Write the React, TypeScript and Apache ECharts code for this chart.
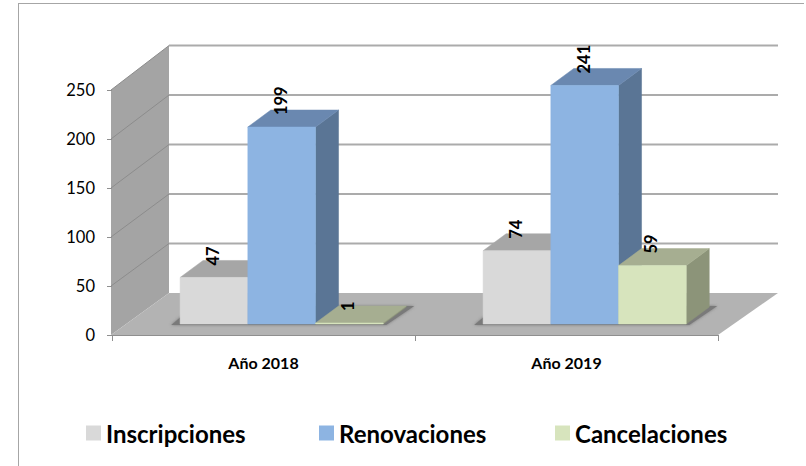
import React, { useEffect, useRef } from "react";
import * as echarts from "echarts";

const categories = ["Año 2018", "Año 2019"];
const seriesNames = ["Inscripciones", "Renovaciones", "Cancelaciones"];
const inscripciones = [47, 74];
const renovaciones = [199, 241];
const cancelaciones = [1, 59];
const yTicks = [0, 50, 100, 150, 200, 250];

const FONT = "Lato, Carlito, Calibri, sans-serif";
const faces = [
  { front: "#D9D9D9", top: "#A6A6A6", side: "#A3A3A3" },
  { front: "#8DB4E2", top: "#6A88B0", side: "#5A7595" },
  { front: "#D7E4BD", top: "#A6AE91", side: "#8C9479" },
];
const legendLeft = [81, 314, 550];

const BACK_DX = 58;
const BACK_DY = -42;
const VSCALE = 1.01;
const BAR_LIFT = 11;
const BAR_DX = 23;
const BAR_DY = -17;
const BAR_SHARE = 0.2235;
const GROUP_SHIFT = 0.06;

function barGeometry(api: any, cat: number, seriesIdx: number, v: number) {
  const [cx, yv] = api.coord([cat, v]);
  const [, y0] = api.coord([cat, 0]);
  const band = api.size([1, 0])[0];
  const w = band * BAR_SHARE;
  const center = cx + band * GROUP_SHIFT;
  const left = center - 1.5 * w + seriesIdx * w;
  const base = y0 - BAR_LIFT;
  const top = base - (y0 - yv) * VSCALE;
  return { left, right: left + w, base, top, w, center: left + w / 2 };
}

function renderBar(seriesIdx: number) {
  return (params: any, api: any) => {
    const cat = api.value(0);
    const v = api.value(1);
    const g = barGeometry(api, cat, seriesIdx, v);
    const c = faces[seriesIdx];
    const poly = (points: number[][], fill: string) => ({
      type: "polygon",
      shape: { points },
      style: { fill, stroke: fill, lineWidth: 0.5 },
    });
    return {
      type: "group",
      children: [
        poly(
          [
            [g.right, g.top],
            [g.right + BAR_DX, g.top + BAR_DY],
            [g.right + BAR_DX, g.base + BAR_DY],
            [g.right, g.base],
          ],
          c.side,
        ),
        poly(
          [
            [g.left, g.top],
            [g.left + BAR_DX, g.top + BAR_DY],
            [g.right + BAR_DX, g.top + BAR_DY],
            [g.right, g.top],
          ],
          c.top,
        ),
        poly(
          [
            [g.left, g.top],
            [g.right, g.top],
            [g.right, g.base],
            [g.left, g.base],
          ],
          c.front,
        ),
        {
          type: "text",
          x: g.center - 1,
          y: g.top - 12,
          rotation: Math.PI / 2,
          style: {
            text: String(v),
            fill: "#000",
            font: `bold 16.5px ${FONT}`,
            align: "left",
            verticalAlign: "middle",
          },
        },
      ],
    };
  };
}

function renderRoom(params: any, api: any) {
  const yOf = (t: number) => api.coord([0, t])[1];
  const x0 = api.coord([0, 0])[0] - api.size([1, 0])[0] / 2;
  const x1 = api.coord([1, 0])[0] + api.size([1, 0])[0] / 2;
  const y0 = yOf(0);
  const backY = (t: number) => y0 + BACK_DY - (y0 - yOf(t)) * VSCALE;
  const wallX = x0 - 1;
  const backX = x0 + BACK_DX - 1;
  const tMax = yTicks[yTicks.length - 1];
  const children: any[] = [
    {
      type: "polygon",
      shape: {
        points: [
          [wallX, y0],
          [backX, backY(0)],
          [backX, backY(tMax)],
          [wallX, yOf(tMax)],
        ],
      },
      style: { fill: "#A4A4A4" },
    },
    {
      type: "polygon",
      shape: {
        points: [
          [x0 - 1, y0],
          [x1, y0],
          [x1 + BACK_DX + 2, backY(0)],
          [backX, backY(0)],
        ],
      },
      style: { fill: "#B3B3B3" },
    },
  ];
  yTicks.forEach((t) => {
    if (t > 0) {
      children.push({
        type: "line",
        shape: { x1: backX, y1: backY(t), x2: x1 + BACK_DX + 2, y2: backY(t) },
        style: { stroke: "#ABABAB", lineWidth: 2 },
      });
      children.push({
        type: "line",
        shape: { x1: wallX, y1: yOf(t), x2: backX, y2: backY(t) },
        style: { stroke: "#8C8C8C", lineWidth: 1 },
      });
    }
  });
  categories.forEach((_, cat) => {
    const a = barGeometry(api, cat, 0, 0);
    const b = barGeometry(api, cat, 2, 0);
    children.push({
      type: "polygon",
      shape: {
        points: [
          [a.left - 9, a.base + 1],
          [b.right + 3, b.base + 1],
          [b.right + BAR_DX + 8, b.base - 18],
          [a.left + 14, a.base - 18],
        ],
      },
      style: {
        fill: "#7A7A7A",
        shadowBlur: 3,
        shadowColor: "rgba(100,100,100,0.7)",
      },
    });
  });
  return { type: "group", children };
}

const seriesData = [inscripciones, renovaciones, cancelaciones];

export default function App() {
  const ref = useRef<HTMLDivElement>(null);
  useEffect(() => {
    document.body.style.margin = "0";
    const chart = echarts.init(ref.current!, undefined, { renderer: "svg" });
    chart.setOption({
      animation: false,
      backgroundColor: "#fff",
      grid: { left: 112, right: 88, top: 90, height: 245 },
      legend: seriesNames.map((n, i) => ({
        data: [n],
        left: legendLeft[i],
        top: 416,
        icon: "rect",
        itemWidth: 15,
        itemHeight: 15,
        textStyle: {
          fontFamily: FONT,
          fontWeight: "bold",
          fontSize: 24,
          color: "#000",
        },
      })),
      xAxis: {
        type: "category",
        data: categories,
        z: 5,
        axisLine: { show: true, lineStyle: { color: "#8F8F8F", width: 1 } },
        axisTick: { show: true, length: 6, lineStyle: { color: "#8F8F8F" } },
        axisLabel: {
          color: "#000",
          fontFamily: FONT,
          fontWeight: "bold",
          fontSize: 16,
          margin: 19,
        },
      },
      yAxis: {
        type: "value",
        min: 0,
        max: 250,
        interval: 50,
        z: 5,
        axisLine: { show: false },
        axisTick: { show: true, length: 5, lineStyle: { color: "#8F8F8F" } },
        splitLine: { show: false },
        axisLabel: {
          color: "#000",
          fontFamily: FONT,
          fontSize: 16.5,
          margin: 17,
        },
      },
      series: [
        {
          type: "custom",
          name: "room",
          silent: true,
          renderItem: renderRoom,
          data: [[0, 0]],
          encode: { x: 0, y: 1 },
          clip: false,
          z: 1,
        },
        ...seriesNames.map((n, i) => ({
          type: "custom",
          name: n,
          renderItem: renderBar(i),
          itemStyle: { color: faces[i].front },
          data: categories.map((_, c) => [c, seriesData[i][c]]),
          encode: { x: 0, y: 1 },
          clip: false,
          z: 2 + i,
        })),
      ],
    });
    return () => chart.dispose();
  }, []);
  return (
    <div style={{ position: "relative", width: 806, height: 466 }}>
      <div ref={ref} style={{ width: 806, height: 466 }} />
      <div
        style={{
          position: "absolute",
          left: 18,
          top: 3,
          right: 2,
          bottom: 0,
          borderLeft: "1px solid #A6A6A6",
          borderTop: "1px solid #A6A6A6",
          pointerEvents: "none",
        }}
      />
    </div>
  );
}
